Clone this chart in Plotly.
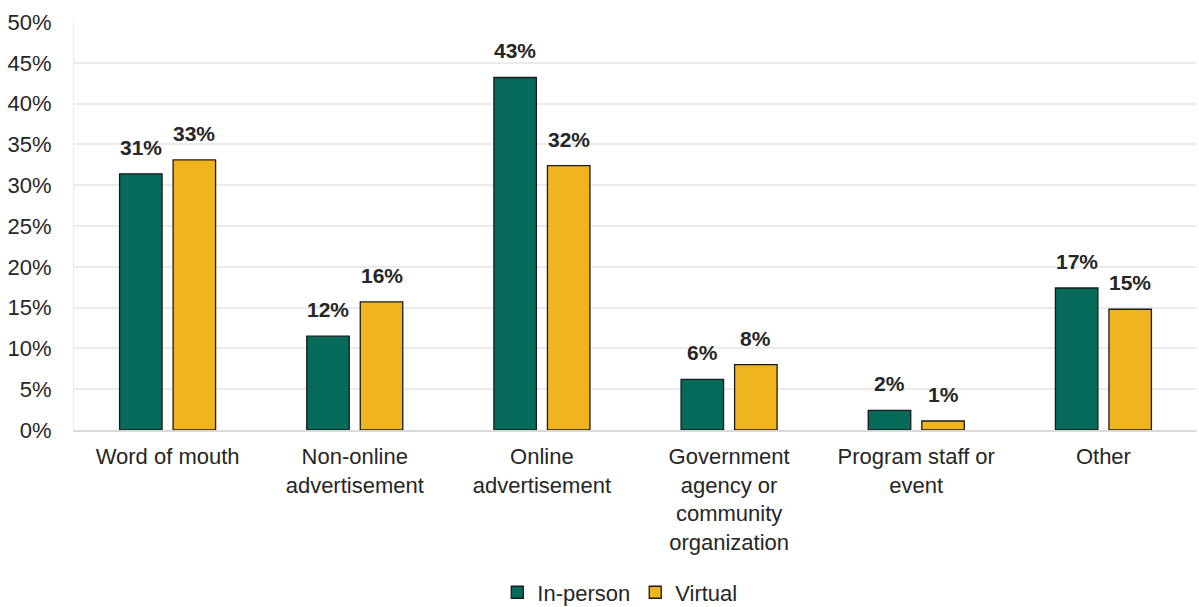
import plotly.graph_objects as go

categories = ["Word of mouth", "Non-online<br>advertisement", "Online<br>advertisement",
              "Government<br>agency or<br>community<br>organization", "Program staff or<br>event", "Other"]
in_person = [31.4, 11.5, 43.2, 6.2, 2.4, 17.4]
virtual = [33.1, 15.7, 32.4, 8.0, 1.1, 14.8]
series_names = ["In-person", "Virtual"]
colors = ["#066A5A", "#F0B41E"]
y_ticks = [0, 5, 10, 15, 20, 25, 30, 35, 40, 45, 50]
y_tick_text = [f"{v}%" for v in y_ticks]

BARGAP = 0.428
BARGROUPGAP = 0.206
FONT = "Liberation Sans, Arial"

fig = go.Figure()
for name, vals, col in zip(series_names, [in_person, virtual], colors):
    fig.add_trace(go.Bar(
        x=categories, y=vals, name=name,
        marker=dict(color=col, line=dict(color="#1a1a1a", width=1.3)),
    ))

# value labels placed above each bar at data coordinates
slot = (1 - BARGAP) / 2
for s, vals in enumerate([in_person, virtual]):
    offset = (s - 0.5) * slot
    for i, v in enumerate(vals):
        fig.add_annotation(
            x=i + offset, y=v, xref="x", yref="y", text=f"{v:.0f}%",
            showarrow=False, yanchor="bottom", yshift=13,
            font=dict(family=FONT, size=21, color="#262626", weight="bold"),
        )

fig.update_layout(
    width=1199, height=607,
    margin=dict(l=74, r=2, t=22, b=177, autoexpand=False),
    paper_bgcolor="white", plot_bgcolor="white",
    barmode="group", bargap=BARGAP, bargroupgap=BARGROUPGAP,
    font=dict(family=FONT, size=22, color="#262626"),
    legend=dict(orientation="h", x=0.486, xanchor="center", yref="container", y=0.024,
                yanchor="middle", font=dict(size=22), itemwidth=30, traceorder="normal"),
    xaxis=dict(showline=True, linecolor="#d9d9d9", linewidth=1.5, tickfont=dict(size=22),
               ticks="", showgrid=False, ticklabelstandoff=6),
    yaxis=dict(range=[0, 50], tickvals=y_ticks, ticktext=y_tick_text, showgrid=True,
               gridcolor="#ebebeb", gridwidth=1.5, zeroline=False, showline=True,
               linecolor="#ebebeb", tickfont=dict(size=22), ticks="", ticklabelstandoff=17),
)
fig.write_html("out.html")
